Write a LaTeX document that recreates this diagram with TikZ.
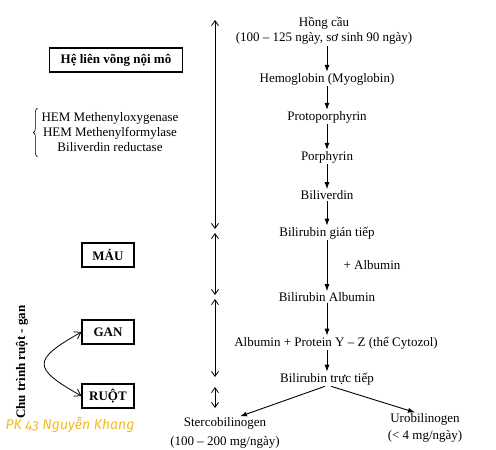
\documentclass[tikz,border=0pt]{standalone}
\usepackage{fontspec}
\setmainfont{Liberation Serif}
\newfontfamily\markfont[Numbers=OldStyle]{Fira Sans}
\usepackage{tikz}
\usetikzlibrary{arrows.meta,positioning,calc,decorations.pathreplacing}
\usepackage{xcolor}
\definecolor{markgold}{RGB}{240,186,40}
\newcommand{\diagfont}{\fontsize{13}{15}\selectfont}
\tikzset{
  stage/.style  = {inner sep=1pt, align=center},
  organ/.style  = {draw, line width=1.1pt, rectangle, inner sep=0pt,
                   minimum height=24pt, minimum width=52pt, font=\diagfont\bfseries},
  flow/.style   = {-{Latex[length=7pt,width=5pt]}, line width=0.9pt},
  span/.style   = {{Straight Barb[length=5pt,width=7pt]}-{Straight Barb[length=5pt,width=7pt]}, line width=0.8pt},
  loopar/.style = {{Straight Barb[length=6pt,width=8pt]}-{Straight Barb[length=6pt,width=8pt]}, line width=0.8pt},
}

\begin{document}
\begin{tikzpicture}[x=1pt,y=-1pt,font=\diagfont]
\useasboundingbox (0,0) rectangle (496,450);
\node[stage] (hc) at (324,31) {Hồng cầu\\(100 – 125 ngày, sơ sinh 90 ngày)};
\node[stage] (hb) at (327,79) {Hemoglobin (Myoglobin)};
\node[stage] (pp) at (327,117) {Protoporphyrin};
\node[stage] (po) at (327,157) {Porphyrin};
\node[stage] (bv) at (327,195) {Biliverdin};
\node[stage] (bg) at (327,233) {Bilirubin gián tiếp};
\node[stage] (alb) at (372,265) {+ Albumin};
\node[stage] (ba) at (327,297) {Bilirubin Albumin};
\node[stage] (ap) at (336,343) {Albumin + Protein Y – Z (thể Cytozol)};
\node[stage] (bt) at (327,379) {Bilirubin trực tiếp};
\node[stage] (sc) at (225,433) {Stercobilinogen\\[4pt](100 – 200 mg/ngày)};
\node[stage] (ub) at (425,428) {Urobilinogen\\[2pt](< 4 mg/ngày)};
\draw[flow] (hc.south -| hb) -- (hb);
\draw[flow] (hb) -- (pp);
\draw[flow] (pp) -- (po);
\draw[flow] (po) -- (bv);
\draw[flow] (bv) -- (bg);
\draw[flow] (bg) -- (ba);
\draw[flow] (ba) -- (ba |- ap.north);
\draw[flow] (bt |- ap.south) -- (bt);
\draw[flow] ([xshift=-2pt]bt.south) -- ([xshift=15pt]sc.north);
\draw[flow] ([xshift=4pt]bt.south) -- ([xshift=-10pt]ub.north);
\coordinate (s0) at (215,20);
\coordinate (s1) at (215,229);
\coordinate (s2) at (215,233);
\coordinate (s3) at (215,295);
\coordinate (s4) at (215,299);
\coordinate (s5) at (215,377);
\coordinate (s6) at (215,387);
\coordinate (s7) at (215,408);
\foreach \a/\b in {s0/s1,s2/s3,s4/s5,s6/s7}
  \draw[span] (\a) -- (\b);
\node[organ,minimum width=133pt] (rv) at (116,60) {Hệ liên võng nội mô};
\node[stage] (enz) at (110,132) {HEM Methenyloxygenase\\HEM Methenylformylase\\Biliverdin reductase};
\draw[decorate,decoration={brace,amplitude=4pt},line width=0.6pt]
  ([xshift=-3pt,yshift=-4pt]enz.south west) -- ([xshift=-3pt,yshift=3pt]enz.north west);
\node[organ] (mau) at (108,255) {MÁU};
\node[organ] (gan) at (108,332) {GAN};
\node[organ] (ruot) at (108,396) {RUỘT};
\draw[loopar] (gan.west) .. controls (32,360) and (32,368) .. (ruot.west);
\node[rotate=90,font=\diagfont\bfseries] (cyc) at (22,362) {Chu trình ruột - gan};
\node[text=markgold,font=\markfont\itshape\fontsize{14}{16}\selectfont] (mark) at (70,425) {PK 43 Nguyễn Khang};
\end{tikzpicture}
\end{document}
